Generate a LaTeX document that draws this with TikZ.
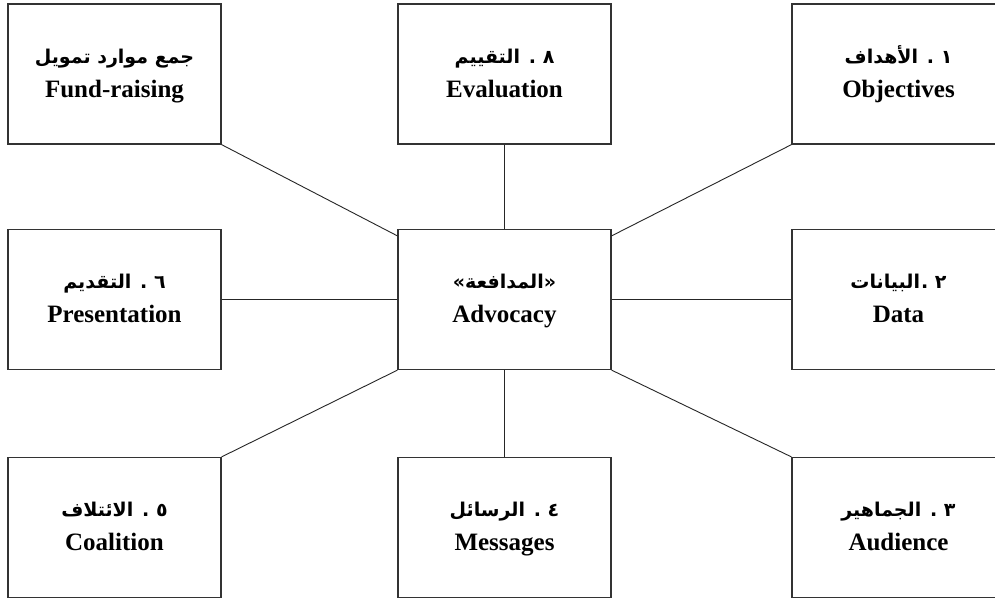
\documentclass[tikz,border=0pt]{standalone}
\usepackage{fontspec}
\setmainfont{Liberation Serif}
\newfontfamily\arabicfont[Script=Arabic]{DejaVu Sans}
\TeXXeTstate=1
\usetikzlibrary{calc}
\tikzset{
  boxst/.style={draw=black!80, line width=1.3pt, minimum width=213pt, minimum height=140pt, inner sep=0pt, fill=white},
  arst/.style={font=\arabicfont\bfseries\fontsize{19}{23}\selectfont, inner sep=0pt, anchor=base},
  enst/.style={font=\bfseries\fontsize{25}{30}\selectfont, inner sep=0pt, anchor=base},
  link/.style={draw=black!85, line width=0.9pt}
}
\newcommand\dgbox[5]{%
  \node[boxst] (#1) at (#2,#3) {};
  \node[arst] (#1-ar) at ([yshift=11pt]#1.center) {#4};
  \node[enst] (#1-en) at ([yshift=-23pt]#1.center) {#5};
}
\begin{document}
\begin{tikzpicture}[x=1pt,y=-1pt]
\useasboundingbox (0,0) rectangle (995,598);
\clip (0,0) rectangle (995,598);
\fill[white] (0,0) rectangle (995,598);
\dgbox{fund}{114.5}{74}{\beginR جمع موارد تمويل\endR}{Fund-raising}
\dgbox{eval}{504.5}{74}{\beginR ٨ . التقييم\endR}{Evaluation}
\dgbox{obj}{898.5}{74}{\beginR ١ . الأهداف\endR}{Objectives}
\dgbox{pres}{114.5}{299.5}{\beginR ٦ . التقديم\endR}{Presentation}
\dgbox{adv}{504.5}{299.5}{\beginR «المدافعة»\endR}{Advocacy}
\dgbox{data}{898.5}{299.5}{\beginR ٢ .\kern1pt البيانات\endR}{Data}
\dgbox{coal}{114.5}{527.5}{\beginR ٥ . الائتلاف\endR}{Coalition}
\dgbox{msg}{504.5}{527.5}{\beginR ٤ . الرسائل\endR}{Messages}
\dgbox{aud}{898.5}{527.5}{\beginR ٣ . الجماهير\endR}{Audience}
\draw[link] (fund.south east) -- ([yshift=-7pt]adv.north west);
\draw[link] (eval.south) -- (adv.north);
\draw[link] (obj.south west) -- ([yshift=-7pt]adv.north east);
\draw[link] (pres.east) -- (adv.west);
\draw[link] (data.west) -- (adv.east);
\draw[link] (coal.north east) -- (adv.south west);
\draw[link] (msg.north) -- (adv.south);
\draw[link] (aud.north west) -- (adv.south east);
\end{tikzpicture}
\end{document}
